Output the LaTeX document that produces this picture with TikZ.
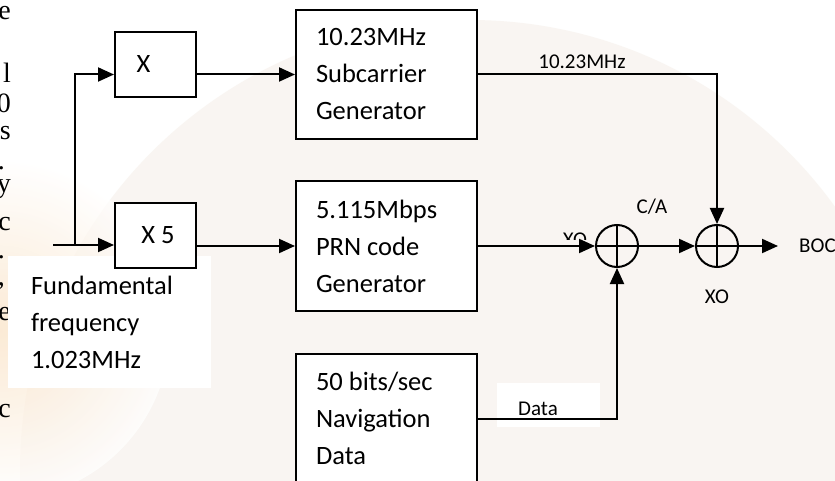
\documentclass[tikz,border=0pt]{standalone}
\usepackage{fontspec}
\setmainfont{Carlito}
\newfontfamily\pagefont{Liberation Serif}
\usetikzlibrary{arrows.meta}
\definecolor{globe}{RGB}{238,228,218}
\definecolor{glow}{RGB}{250,226,196}

\begin{document}
\begin{tikzpicture}[x=1pt, y=-1pt,
    blk/.style={draw, line width=2pt, fill=white, minimum height=129pt, minimum width=181pt,
        text width=141pt, inner xsep=20pt, align=flush left, font=\fontsize{26.5}{37}\selectfont},
    mul/.style={draw, line width=2pt, fill=white, minimum height=65pt, minimum width=81pt,
        font=\fontsize{26.5}{37}\selectfont},
    xor/.style={draw, circle, line width=2pt, minimum size=42pt, inner sep=0pt},
    lbl/.style={inner sep=0pt, font=\fontsize{21}{25}\selectfont},
    wire/.style={line width=2pt},
    arr/.style={wire, -{Triangle[length=16pt, width=14pt]}}]
\clip (0,0) rectangle (835,481);

% faint backdrop
\fill[white] (0,0) rectangle (835,481);
\fill[globe, opacity=0.35] (470,470) circle (450pt);
\shade[inner color=glow, outer color=white, opacity=0.7] (0,330) circle (170pt);

% stray page text at the left edge
\foreach \g/\yy in {e/20, l/83, 0/113, s/140, y/193, c/230, e/320, c/417}
    \node[anchor=base east, inner sep=0pt, font=\pagefont\fontsize{28}{30}\selectfont] (pg\yy) at (11,\yy) {\g};
\foreach \yy in {170, 258}
    \node[anchor=base east, inner sep=0pt, font=\pagefont\fontsize{28}{30}\selectfont] (pg\yy) at (5,\yy) {.};
\node[anchor=base east, inner sep=0pt, font=\pagefont\fontsize{28}{30}\selectfont] (pg285) at (5,285) {,};

% blocks
\node[blk, draw=none, anchor=north west, minimum width=203pt, minimum height=132pt,
    text width=157pt, inner xsep=23pt] (fund) at (7,255) {Fundamental\\frequency\\1.023MHz};
\node[mul] (x1) at (155.5,64.5) {X\hspace*{24pt}};
\node[mul] (x5) at (155.5,235.5) {\hspace*{5pt}X 5};
\node[blk] (sub) at (386.5,74.5) {10.23MHz\\Subcarrier\\Generator};
\node[blk] (prn) at (386.5,246) {5.115Mbps\\PRN code\\Generator};
\node[blk] (nav) at (386.5,418.5) {50 bits/sec\\Navigation\\Data};
\node[xor] (xo1) at (617,246) {};
\node[xor] (xo2) at (717,246) {};
\foreach \c in {xo1, xo2}
    \draw[line width=2pt] (\c.north) -- (\c.south) (\c.west) -- (\c.east);

% labels
\node[lbl] (subfreq) at (582,62) {10.23MHz};
\node[lbl] (ca) at (652,207) {C/A};
\node[lbl] (xolbl) at (717,297) {XO};
\node[lbl, anchor=west] (boc) at (799,246) {BOC};
\fill[white] (497,383) rectangle (600,427);
\node[lbl] (datalbl) at (538,409) {Data};
\begin{scope}
    \clip (540,225) rectangle (600,239);
    \node[lbl] (xocut) at (575,240) {XO};
\end{scope}

% connectors
\coordinate (fin) at (53,245);
\coordinate (split) at (75,245);
\coordinate (out) at (778,246);
\draw[arr] (fin) -- (x5.west |- fin);
\draw[arr] (split) |- (x1.west |- sub);
\draw[arr] (x1.east |- sub) -- (sub.west);
\draw[arr] (x5.east |- prn) -- (prn.west);
\draw[arr] (sub.east) -| (xo2.north);
\draw[arr] (prn.east) -- (xo1.west);
\draw[arr] (xo1.east) -- (xo2.west);
\draw[arr] (xo2.east) -- (out);
\draw[arr] (nav.east) -| (xo1.south);
\end{tikzpicture}
\end{document}
